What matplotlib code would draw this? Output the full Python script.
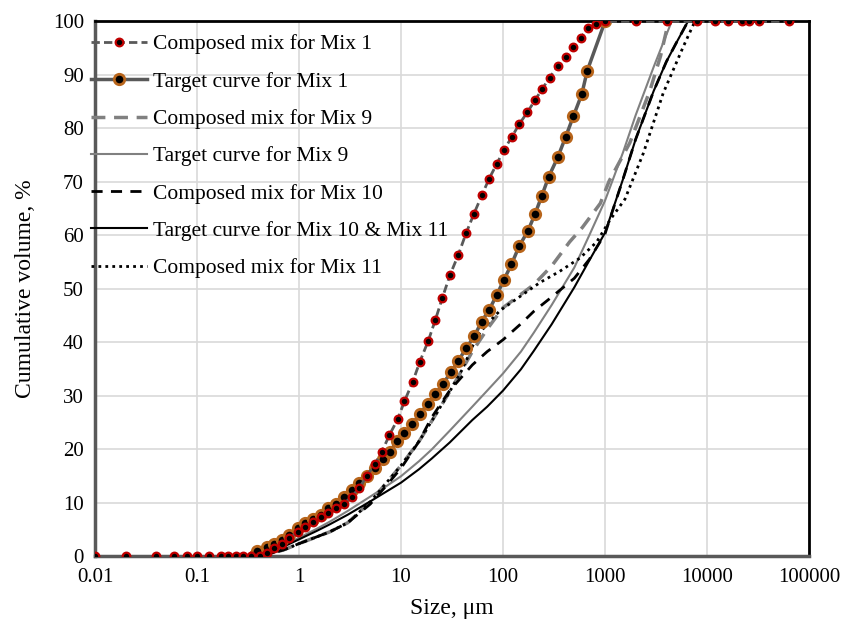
import numpy as np
import matplotlib.pyplot as plt
from matplotlib.ticker import FixedLocator, FixedFormatter

# composed mix for Mix 1 (red dots)
mix1_x = [0.01, 0.02, 0.04, 0.06, 0.08, 0.1, 0.13, 0.17, 0.2, 0.24, 0.28, 0.34, 0.41,
          0.48, 0.57, 0.68, 0.8, 0.97, 1.14, 1.38, 1.63, 1.94, 2.3, 2.76, 3.3, 3.9,
          4.6, 5.5, 6.5, 7.7, 9.3, 10.8, 13, 15.3, 18.5, 21.7, 25.4, 30.2, 36.5, 43.4,
          52, 62, 73, 87, 102, 122, 144, 173, 206, 243, 286, 344, 411, 489, 577, 686,
          820, 1000, 2000, 4100, 8000, 12000, 16000, 22000, 26000, 32000, 64000]
mix1_y = [0, 0, 0, 0, 0, 0, 0, 0, 0, 0, 0, 0, 0,
          0.6, 1.5, 2.4, 3.4, 4.5, 5.5, 6.5, 7.3, 8.1, 9.0, 9.9, 11.2, 12.8,
          15.0, 17.2, 19.6, 22.7, 25.7, 29.0, 32.6, 36.4, 40.3, 44.2, 48.3, 52.6, 56.4, 60.4,
          64.1, 67.5, 70.6, 73.4, 76.0, 78.4, 80.8, 83.0, 85.3, 87.4, 89.5, 91.6, 93.4, 95.2, 97.0, 98.7,
          99.6, 100, 100, 100, 100, 100, 100, 100, 100, 100, 100]

# target curve Mix 1 (orange dots)
t1_x = [0.36, 0.39, 0.48, 0.57, 0.68, 0.8, 0.97, 1.14, 1.38, 1.63, 1.94, 2.3, 2.76, 3.3,
        3.9, 4.6, 5.5, 6.6, 7.8, 9.1, 10.7, 12.9, 15.3, 18.2, 21.6, 25.6, 30.8, 36.5,
        43.5, 52.4, 61.7, 73.1, 87, 102, 121, 144, 175, 206, 240, 281, 344, 411, 490,
        592, 670, 1000]
t1_y = [0, 1.1, 1.8, 2.4, 3.1, 4.0, 5.3, 6.2, 7.0, 7.8, 9.0, 9.9, 11.2, 12.4,
        13.7, 15.0, 16.5, 18.2, 19.6, 21.5, 23.0, 24.8, 26.6, 28.5, 30.3, 32.2, 34.4, 36.6,
        38.9, 41.2, 43.9, 46.1, 48.9, 51.7, 54.6, 58.0, 60.8, 64.0, 67.4, 71.0, 74.6, 78.4, 82.3,
        86.4, 90.8, 100]

# composed mix for Mix 9 (grey dashed)
c9_x = [0.4, 0.7, 1, 2, 3, 5, 7, 10, 15, 20, 30, 40, 50, 70, 100, 150, 200, 300, 450,
        600, 900, 1100, 1750, 2750, 3500, 4200]
c9_y = [0, 1.2, 2.4, 4.6, 6.3, 10.2, 13.5, 17, 21.5, 25.3, 30.8, 35, 38.3, 42.5, 46.5,
        49, 50.8, 54.3, 58.8, 61.5, 66, 70.2, 77.3, 87, 93.5, 100]

# target curve Mix 9 (grey thin)
t9_x = [0.38, 0.5, 0.7, 1, 1.5, 2, 3, 5, 7, 10, 15, 20, 30, 50, 70, 100, 150, 200, 300,
        500, 700, 1000, 1500, 2000, 3000, 4500]
t9_y = [0, 0.9, 2.0, 3.5, 5.2, 6.5, 8.5, 11.2, 13.0, 15.0, 17.8, 20.0, 23.5, 28.0, 31.0,
        34.2, 38.3, 41.8, 47.0, 54, 60, 66.5, 75.5, 82.5, 91.5, 100]

# composed mix for Mix 10 (black dashed)
c10_x = [0.4, 0.7, 1, 2, 3, 5, 7, 10, 15, 20, 30, 50, 70, 100, 150, 200, 300, 500, 700,
         1000, 1500, 2000, 3000, 4000, 5000, 6500]
c10_y = [0, 1.2, 2.4, 4.6, 6.3, 9.8, 13.0, 16.5, 21.5, 26.0, 31.0, 35.8, 38.3, 40.5, 43.5,
         45.8, 48.5, 52, 55.5, 60.3, 70.5, 78, 87, 92.5, 96, 100]

# target curve Mix 10 & Mix 11 (black solid)
t10_x = [0.38, 0.5, 0.7, 1, 1.5, 2, 3, 5, 7, 10, 15, 20, 30, 50, 70, 100, 150, 200, 300,
         500, 700, 1000, 1500, 2000, 3000, 4000, 5000, 6500]
t10_y = [0, 0.8, 1.8, 3.2, 4.8, 6.0, 7.8, 10.3, 12.0, 13.8, 16.3, 18.3, 21.3, 25.5, 28.0,
         31.0, 35.0, 38.4, 43.4, 50.3, 55.3, 60.5, 70.5, 78, 87, 92.5, 96, 100]

# composed mix for Mix 11 (black dotted)
c11_x = [0.4, 0.7, 1, 2, 3, 5, 7, 10, 15, 20, 30, 40, 55, 70, 94, 147, 230, 360, 570,
         830, 1120, 1570, 2380, 3720, 5860, 7600]
c11_y = [0, 1.2, 2.4, 4.6, 6.3, 10.2, 13.5, 17, 21.5, 25.3, 30.8, 35, 41, 43.5, 46, 48.6,
         51.2, 53.3, 55.8, 58.8, 62.9, 66.8, 75.4, 86.6, 95.3, 100]

x_ticks = [0.01, 0.1, 1, 10, 100, 1000, 10000, 100000]
x_labels = ["0.01", "0.1", "1", "10", "100", "1000", "10000", "100000"]

plt.rcParams['font.family'] = ['Liberation Serif', 'DejaVu Serif']

fig = plt.figure(figsize=(8.44, 6.3), dpi=100)
ax = fig.add_axes([0.1126, 0.1167, 0.8459, 0.8492])

ax.plot(mix1_x, mix1_y, color='#595959', ls=(0, (3, 1.5)), lw=2, marker='o', ms=5.5,
        mfc='black', mec='#c00000', mew=1.6, label='Composed mix for Mix 1', zorder=5)
ax.plot(t1_x, t1_y, color='#595959', lw=2.5, marker='o', ms=7.5,
        mfc='black', mec='#b8651b', mew=2, label='Target curve for Mix 1', zorder=4)
ax.plot(c9_x, c9_y, color='#808080', ls=(0, (4, 2.5)), lw=2.5, label='Composed mix for Mix 9')
ax.plot(t9_x, t9_y, color='#808080', lw=1.5, label='Target curve for Mix 9')
ax.plot(c10_x, c10_y, color='black', ls=(0, (4, 3)), lw=2, label='Composed mix for Mix 10')
ax.plot(t10_x, t10_y, color='black', lw=1.5, label='Target curve for Mix 10 & Mix 11')
ax.plot(c11_x, c11_y, color='black', ls=(0, (1, 1.5)), lw=2, label='Composed mix for Mix 11')

ax.set_xscale('log')
ax.set_xlim(0.01, 100000)
ax.set_ylim(0, 100)
ax.xaxis.set_major_locator(FixedLocator(x_ticks))
ax.xaxis.set_major_formatter(FixedFormatter(x_labels))
ax.xaxis.set_minor_locator(FixedLocator([]))
ax.set_yticks(range(0, 101, 10))
ax.tick_params(length=0, labelsize=15, pad=8)
ax.grid(True, color='#d9d9d9', lw=1.2)
ax.set_axisbelow(True)

for s in ['left', 'bottom']:
    ax.spines[s].set_color('#595959')
    ax.spines[s].set_linewidth(2.5)
for s in ['top', 'right']:
    ax.spines[s].set_color('black')
    ax.spines[s].set_linewidth(2)

ax.set_xlabel('Size, μm', fontsize=17, labelpad=8)
ax.set_ylabel('Cumulative volume, %', fontsize=17, labelpad=12)

ax.legend(loc='upper left', bbox_to_anchor=(-0.024, 1.0), frameon=False, fontsize=15.5,
          handlelength=2.6, handletextpad=0.3, labelspacing=0.8, borderaxespad=0.2)

fig.savefig('out.png', dpi=100)
